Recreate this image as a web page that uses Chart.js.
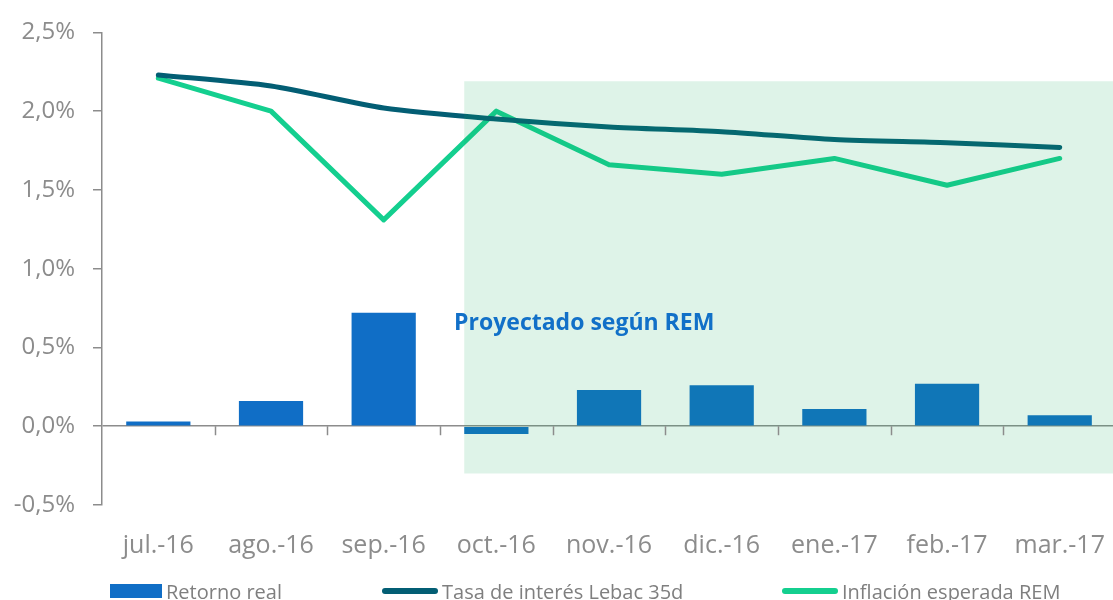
<!DOCTYPE html>
<html>
<head>
<meta charset="utf-8">
<script src="https://cdn.jsdelivr.net/npm/chart.js@4"></script>
<style>
  html, body { margin: 0; padding: 0; background: #fff; overflow: hidden; }
  #wrap { position: absolute; left: 0; top: 0; width: 1113px; height: 600px; overflow: hidden; }
</style>
</head>
<body>
<div id="wrap">
  <canvas id="chart" width="1131" height="600"></canvas>
</div>
<script>
// datos del gráfico
const meses = ['jul.-16', 'ago.-16', 'sep.-16', 'oct.-16', 'nov.-16', 'dic.-16', 'ene.-17', 'feb.-17', 'mar.-17'];
const retornoReal = [0.03, 0.16, 0.72, -0.05, 0.23, 0.26, 0.11, 0.27, 0.07];
const tasaLebac = [2.23, 2.16, 2.02, 1.95, 1.90, 1.87, 1.82, 1.80, 1.77];
const inflacionREM = [2.21, 2.00, 1.31, 2.00, 1.66, 1.60, 1.70, 1.53, 1.70];
const yTicks = [-0.5, 0, 0.5, 1.0, 1.5, 2.0, 2.5];

// zona proyectada (desde la barra de oct.-16 hasta el final)
const zonaDesde = 3;
const zonaArriba = 2.19;
const zonaAbajo = -0.3;
const textoZona = 'Proyectado según REM';
const textoX = 3.78;
const textoY = 0.65;

const gris = '#8c8c8c';
const fuente = "'Open Sans', sans-serif";

// caja verde semitransparente + texto
const zonaPlugin = {
    id: 'zona',
    afterDatasetsDraw(chart) {
        const ctx = chart.ctx;
        const x = chart.scales.x, y = chart.scales.y;
        const bar = chart.getDatasetMeta(0).data[zonaDesde];
        const left = bar.x - bar.width / 2;
        const top = y.getPixelForValue(zonaArriba);
        const bottom = y.getPixelForValue(zonaAbajo);
        ctx.save();
        ctx.fillStyle = 'rgba(20, 170, 95, 0.14)';
        ctx.fillRect(left, top, chart.width - left, bottom - top);
        ctx.fillStyle = '#1170c8';
        ctx.font = "bold 23px " + fuente;
        ctx.textAlign = 'center';
        ctx.textBaseline = 'middle';
        ctx.fillText(textoZona, x.getPixelForValue(textoX), y.getPixelForValue(textoY));
        ctx.restore();
    }
};

// marcas del eje x sobre la linea del cero
const marcasPlugin = {
    id: 'marcas',
    afterDraw(chart) {
        const ctx = chart.ctx;
        const x = chart.scales.x, y = chart.scales.y;
        const y0 = y.getPixelForValue(0);
        ctx.save();
        ctx.strokeStyle = gris;
        ctx.lineWidth = 1.5;
        for (let i = 1; i < meses.length; i++) {
            const px = Math.round(x.getPixelForValue(i - 0.5)) + 0.5;
            ctx.beginPath();
            ctx.moveTo(px, y0);
            ctx.lineTo(px, y0 + 9);
            ctx.stroke();
        }
        ctx.restore();
    }
};

// leyenda dibujada a mano (posiciones como en el original)
const leyendaX = [110, 382, 782];
const leyendaPlugin = {
    id: 'leyenda',
    afterDraw(chart) {
        const ctx = chart.ctx;
        const yc = 591;
        ctx.save();
        ctx.font = "20px " + fuente;
        ctx.textBaseline = 'middle';
        chart.data.datasets.forEach((ds, i) => {
            const x0 = leyendaX[i];
            let x1;
            if (ds.type === 'bar') {
                ctx.fillStyle = ds.backgroundColor;
                ctx.fillRect(x0, yc - 7, 52, 14);
                x1 = x0 + 52;
            } else {
                ctx.strokeStyle = ds.borderColor;
                ctx.lineWidth = 6;
                ctx.lineCap = 'round';
                ctx.beginPath();
                ctx.moveTo(x0 + 3, yc);
                ctx.lineTo(x0 + 53, yc);
                ctx.stroke();
                x1 = x0 + 56;
            }
            ctx.fillStyle = '#7f7f7f';
            ctx.fillText(ds.label, x1 + 4, yc + 2);
        });
        ctx.restore();
    }
};

new Chart(document.getElementById('chart'), {
    data: {
        labels: meses,
        datasets: [
            {
                type: 'bar',
                label: 'Retorno real',
                data: retornoReal,
                backgroundColor: '#106ec6',
                borderWidth: 0,
                barPercentage: 0.57,
                categoryPercentage: 1,
                order: 3
            },
            {
                type: 'line',
                label: 'Tasa de interés Lebac 35d',
                data: tasaLebac,
                borderColor: '#035e74',
                backgroundColor: '#035e74',
                borderWidth: 5,
                borderCapStyle: 'round',
                borderJoinStyle: 'round',
                tension: 0.25,
                pointRadius: 0,
                fill: false,
                order: 1
            },
            {
                type: 'line',
                label: 'Inflación esperada REM',
                data: inflacionREM,
                borderColor: '#14cf8f',
                backgroundColor: '#14cf8f',
                borderWidth: 5,
                borderCapStyle: 'round',
                borderJoinStyle: 'round',
                tension: 0,
                pointRadius: 0,
                fill: false,
                order: 2
            }
        ]
    },
    options: {
        responsive: false,
        animation: false,
        devicePixelRatio: 1,
        layout: { padding: { left: 0, right: 1, top: 26, bottom: 31 } },
        plugins: {
            legend: { display: false },
            tooltip: { enabled: false }
        },
        scales: {
            x: {
                offset: true,
                grid: { display: false, drawTicks: false },
                border: { display: false },
                ticks: {
                    color: gris,
                    font: { family: fuente, size: 25 },
                    padding: 26,
                    maxRotation: 0,
                    autoSkip: false
                },
                afterFit(scale) { scale.height = 64; }
            },
            y: {
                min: -0.5,
                max: 2.5,
                afterBuildTicks(scale) { scale.ticks = yTicks.map(v => ({ value: v })); },
                grid: {
                    drawOnChartArea: true,
                    color: ctx => (ctx.tick && ctx.tick.value === 0) ? gris : 'rgba(0,0,0,0)',
                    tickColor: gris,
                    tickLength: 9,
                    lineWidth: 1.5
                },
                border: { display: true, color: gris, width: 1.5 },
                ticks: {
                    color: gris,
                    font: { family: fuente, size: 24 },
                    padding: 18,
                    callback: v => v.toFixed(1).replace('.', ',') + '%'
                },
                afterFit(scale) { scale.width = 102; }
            }
        }
    },
    plugins: [zonaPlugin, marcasPlugin, leyendaPlugin]
});
</script>
</body>
</html>
